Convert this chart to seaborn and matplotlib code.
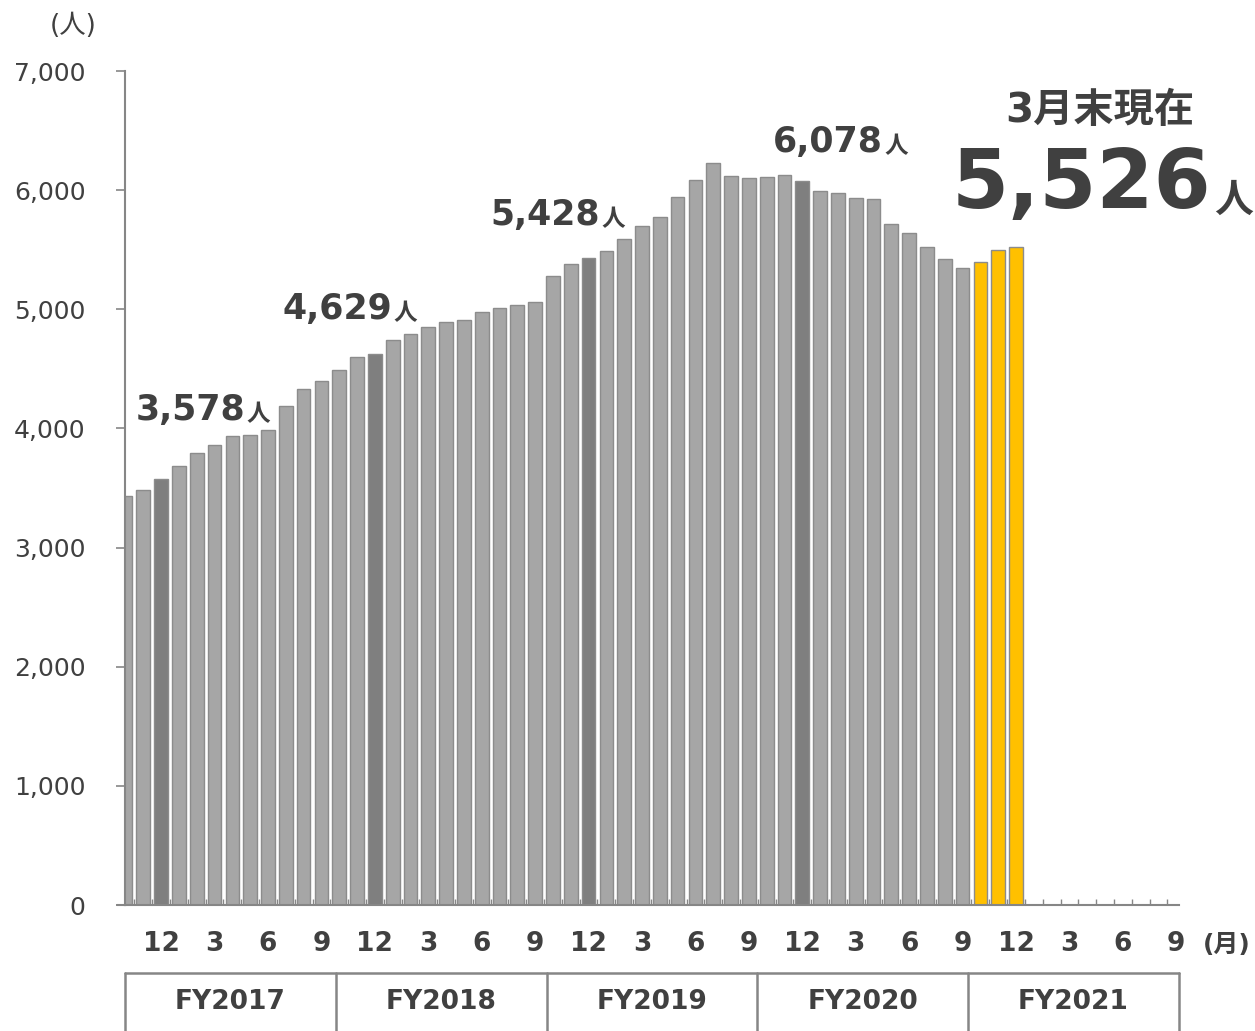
import numpy as np
import pandas as pd
import seaborn as sns
import matplotlib.pyplot as plt
from matplotlib.ticker import FuncFormatter

# -----------------------------
# Données (effectif mensuel, Oct FY2017 -> Dec FY2021)
# -----------------------------
values = [
    3433, 3486, 3578, 3685, 3791, 3863, 3936, 3945, 3987, 4191, 4331, 4398,   # FY2017
    4490, 4602, 4629, 4742, 4795, 4848, 4890, 4907, 4974, 5010, 5038, 5064,   # FY2018
    5282, 5377, 5428, 5489, 5590, 5702, 5772, 5940, 6085, 6225, 6116, 6099,   # FY2019
    6113, 6124, 6078, 5995, 5973, 5934, 5929, 5718, 5637, 5520, 5419, 5347,   # FY2020
    5400, 5498, 5526,                                                         # FY2021
]
highlight_idx = [2, 14, 26, 38]     # décembre de chaque année
latest_idx = [48, 49, 50]           # derniers mois (jaune)
month_labels = ["12", "3", "6", "9"] * 5
fy_labels = ["FY2017", "FY2018", "FY2019", "FY2020", "FY2021"]
n_slots = 60

callouts = [
    # (texte, x data, y valeur)
    ("3,578", 0.57, 4071),
    ("4,629", 8.81, 4918),
    ("5,428", 20.47, 5707),
    ("6,078", 36.34, 6320),
]

GREY = "#A6A6A6"
DARK = "#7F7F7F"
YELLOW = "#FFC000"
TXT = "#404040"
LINE = "#868686"

df = pd.DataFrame({"pos": [str(i) for i in range(len(values))], "value": values})
palette = {}
for i in range(len(values)):
    if i in latest_idx:
        palette[str(i)] = YELLOW
    elif i in highlight_idx:
        palette[str(i)] = DARK
    else:
        palette[str(i)] = GREY

sns.set_style("white")
plt.rcParams["font.family"] = ["DejaVu Sans", "Noto Sans CJK JP"]

fig = plt.figure(figsize=(12.55, 10.31), dpi=100)
ax = fig.add_axes([0.0996, 0.1222, 0.8398, 0.8089])

sns.barplot(data=df, x="pos", y="value", hue="pos", palette=palette, legend=False,
            width=0.77, saturation=1, edgecolor="#8C8C8C", linewidth=1, ax=ax)

ax.set_xlim(-0.03, 59.15)
ax.set_ylim(0, 7000)
ax.set_xlabel("")
ax.set_ylabel("")

# axe Y
ax.set_yticks(np.arange(0, 7001, 1000))
ax.yaxis.set_major_formatter(FuncFormatter(lambda v, p: f"{int(v):,}"))
ax.tick_params(axis="y", left=True, length=6.5, width=1.2, color=LINE, pad=22,
               labelsize=18, labelcolor=TXT)

# axe X : mois
ax.set_xticks(np.arange(2, n_slots, 3))
ax.set_xticklabels(month_labels)
ax.tick_params(axis="x", which="major", length=0, pad=19, labelsize=19,
               labelcolor=TXT)
for lab in ax.get_xticklabels():
    lab.set_fontweight("bold")
ax.set_xticks(np.arange(0.5, n_slots - 1, 1), minor=True)
ax.tick_params(axis="x", which="minor", bottom=True, direction="in", length=4,
               width=1, color=LINE)

for s in ["top", "right"]:
    ax.spines[s].set_visible(False)
for s in ["left", "bottom"]:
    ax.spines[s].set_color(LINE)
    ax.spines[s].set_linewidth(1.5)
ax.plot([-0.5, 0], [0, 0], color=LINE, lw=1.5, clip_on=False)

# unités
fig.text(0.058, 0.975, "(人)", fontsize=19, color=TXT, ha="center", va="center")
ax.text(1.023, -0.048, "(月)", transform=ax.transAxes, fontsize=18,
        fontweight="bold", color=TXT, ha="left", va="center")

# boîtes FY
yb_top, yb_bot = -0.0815, -0.16
ax.plot([0, 1], [yb_top, yb_top], transform=ax.transAxes, color=LINE, lw=1.8,
        clip_on=False)
for k in range(6):
    ax.plot([k / 5, k / 5], [yb_top, yb_bot], transform=ax.transAxes,
            color=LINE, lw=1.8, clip_on=False)
for k, lab in enumerate(fy_labels):
    ax.text(k / 5 + 0.1, -0.1163, lab, transform=ax.transAxes, fontsize=19,
            fontweight="bold", color=TXT, ha="center", va="center")

# annotations
for txt, xv, yv in callouts:
    t = ax.text(xv, yv, txt, fontsize=25, fontweight="bold", color=TXT,
                ha="left", va="baseline")
    ax.annotate("人", xy=(1, 0), xycoords=t, xytext=(1, 1),
                textcoords="offset points", fontsize=17, fontweight="bold",
                color=TXT, ha="left", va="bottom")

ax.text(54.68, 6664, "3月末現在", fontsize=29, fontweight="bold", color=TXT,
        ha="center", va="center")
big = ax.text(46.37, 5850, f"{values[-1]:,}", fontsize=59, fontweight="bold",
              color=TXT, ha="left", va="baseline")
ax.annotate("人", xy=(1, 0), xycoords=big, xytext=(2, 4),
            textcoords="offset points", fontsize=28, fontweight="bold",
            color=TXT, ha="left", va="bottom")

plt.savefig("out.png", dpi=100)
